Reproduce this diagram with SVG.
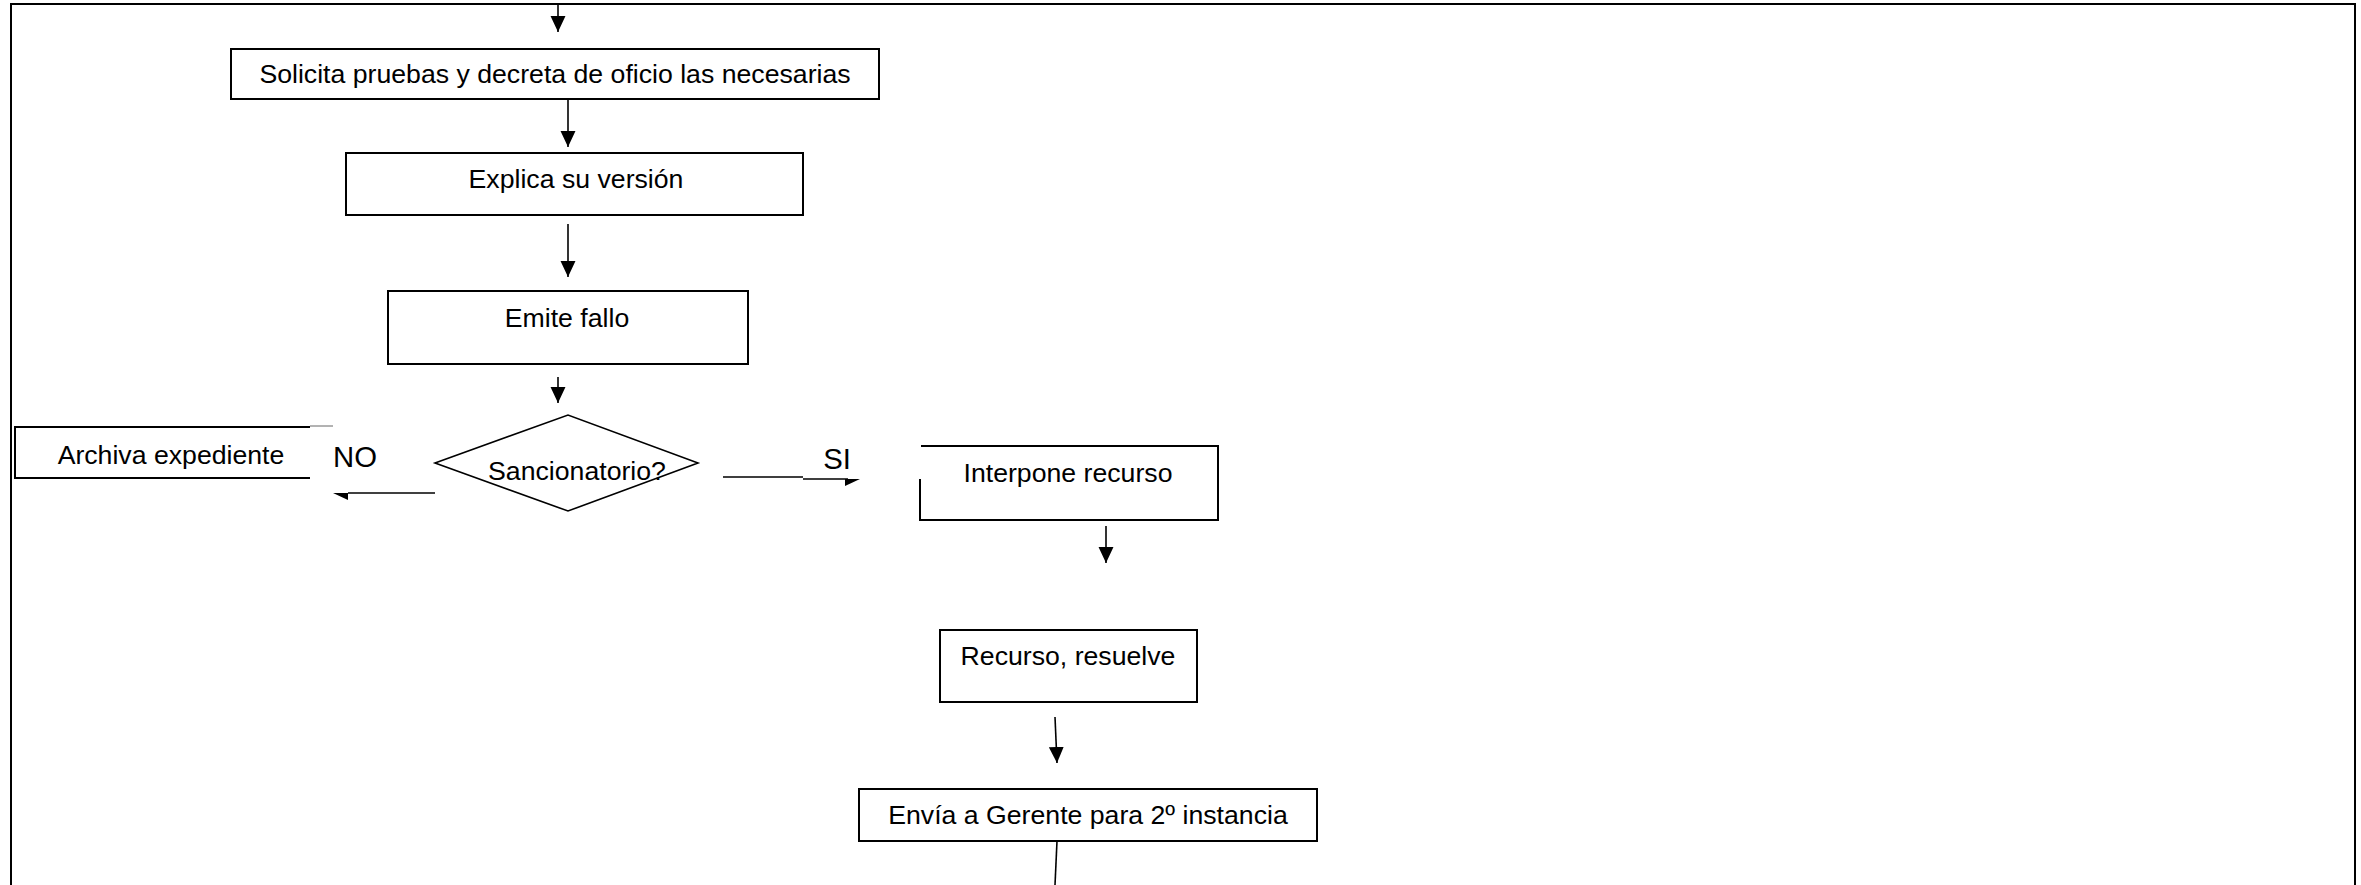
<svg xmlns="http://www.w3.org/2000/svg" width="2361" height="885" viewBox="0 0 2361 885">
<defs>
<style>
.box{fill:#fff;stroke:#000;stroke-width:2}
.ln{fill:none;stroke:#000;stroke-width:1.6}
.t{font-family:"Liberation Sans",Arial,sans-serif;font-size:26.67px;fill:#000;text-anchor:middle}
.lbl{font-family:"Liberation Sans",Arial,sans-serif;font-size:29.3px;fill:#000;text-anchor:middle}
</style>
<marker id="ah" markerUnits="userSpaceOnUse" markerWidth="16" markerHeight="16" viewBox="0 0 15 14" refX="15" refY="7" orient="auto">
<path d="M0,0 L15,7 L0,14 z" fill="#000"/>
</marker>
</defs>
<rect width="2361" height="885" fill="#fff"/>
<path d="M11,885 V4 H2355 V885" fill="none" stroke="#000" stroke-width="2"/>
<g id="connectors">
<line class="ln" x1="558" y1="5" x2="558" y2="32" marker-end="url(#ah)"/>
<line class="ln" x1="568" y1="99" x2="568" y2="147" marker-end="url(#ah)"/>
<line class="ln" x1="568" y1="224" x2="568" y2="277" marker-end="url(#ah)"/>
<line class="ln" x1="558" y1="377" x2="558" y2="403" marker-end="url(#ah)"/>
<path class="ln" d="M435,493 H348"/>
<polygon points="333,493 348,493 348,500" fill="#000"/>
<path class="ln" d="M723,477 H803 M803,479 H848"/>
<polygon points="845,479 860,479 845,486" fill="#000"/>
<line class="ln" x1="1106" y1="526" x2="1106" y2="563" marker-end="url(#ah)"/>
<line class="ln" x1="1055" y1="717" x2="1057" y2="763" marker-end="url(#ah)"/>
<line class="ln" x1="1057" y1="841" x2="1055" y2="885"/>
</g>
<g id="solicita">
<rect class="box" x="231" y="49" width="648" height="50"/>
<text class="t" x="555" y="83">Solicita pruebas y decreta de oficio las necesarias</text>
</g>
<g id="explica">
<rect class="box" x="346" y="153" width="457" height="62"/>
<text class="t" x="576" y="188">Explica su versión</text>
</g>
<g id="emite">
<rect class="box" x="388" y="291" width="360" height="73"/>
<text class="t" x="567" y="327">Emite fallo</text>
</g>
<g id="sancionatorio">
<polygon points="435,463 568,415 698,463 568,511" fill="#fff" stroke="#000" stroke-width="1.6"/>
<text class="t" x="577" y="480">Sancionatorio?</text>
</g>
<g id="archiva">
<path d="M310,427 H15 V478 H310" fill="none" stroke="#000" stroke-width="2"/>
<path d="M310,426 H333" fill="none" stroke="#666" stroke-width="1"/>
<text class="t" x="171" y="464">Archiva expediente</text>
</g>
<g id="label-no">
<text class="lbl" x="355" y="467">NO</text>
</g>
<g id="label-si">
<text class="lbl" x="837" y="469">SI</text>
</g>
<g id="interpone">
<path d="M921,446 H1218 V520 H920 V479" fill="none" stroke="#000" stroke-width="2"/>
<text class="t" x="1068" y="482">Interpone recurso</text>
</g>
<g id="recurso">
<rect class="box" x="940" y="630" width="257" height="72"/>
<text class="t" x="1068" y="665">Recurso, resuelve</text>
</g>
<g id="envia">
<rect class="box" x="859" y="789" width="458" height="52"/>
<text class="t" x="1088" y="824">Envía a Gerente para 2º instancia</text>
</g>
</svg>
